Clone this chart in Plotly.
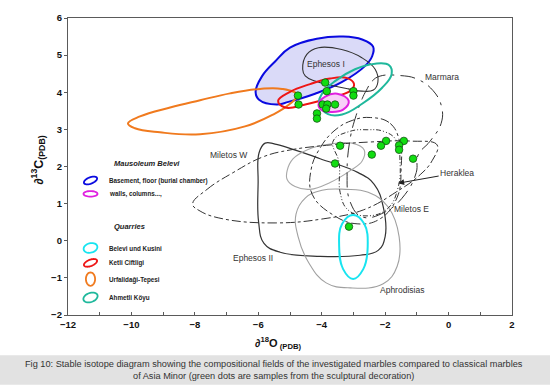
import math
import plotly.graph_objects as go

# ---------------- data (delta units) ----------------
# green dots: samples from the sculptural decoration
dots_x = [-3.89, -3.84, -3.00, -3.00, -4.75, -4.73, -3.97, -3.82, -3.58, -3.86, -4.15, -4.15,
          -1.97, -1.41, -2.13, -1.56, -1.56, -3.42, -2.42, -1.12, -3.58, -3.14]
dots_y = [4.26, 4.03, 4.03, 3.91, 3.91, 3.67, 3.67, 3.67, 3.67, 3.56, 3.43, 3.29,
          2.69, 2.69, 2.56, 2.57, 2.45, 2.56, 2.32, 2.21, 2.08, 0.38]

# Mausoleum Belevi fields
basement_x = [-6.085, -5.88, -5.47, -5.00, -4.155, -3.325, -2.725, -2.38, -2.41, -2.63, -3.37, -4.21, -5.05, -5.42, -5.975]
basement_y = [4.01, 4.435, 4.83, 5.20, 5.44, 5.50, 5.42, 5.23, 4.97, 4.71, 4.27, 3.96, 3.74, 3.67, 3.80]
walls_x = [-4.10, -3.89, -3.51, -3.15, -3.325, -3.70, -4.02]
walls_y = [3.67, 3.88, 3.96, 3.77, 3.53, 3.47, 3.53]

# quarries
belevi_x = [-3.01, -2.66, -2.55, -2.69, -3.01, -3.325, -3.45, -3.355]
belevi_y = [0.695, 0.456, -0.154, -0.764, -1.03, -0.764, -0.154, 0.456]
ketli_x = [-5.375, -5.00, -4.365, -3.735, -3.20, -2.98, -3.10, -3.735, -4.52, -5.155]
ketli_y = [3.77, 4.01, 4.22, 4.37, 4.38, 4.22, 4.04, 3.85, 3.67, 3.59]
urfa_x = [-10.11, -9.73, -8.78, -7.835, -6.89, -5.945, -5.25, -4.76, -5.00, -5.53, -6.42, -7.835, -9.10, -9.89]
urfa_y = [3.16, 3.35, 3.59, 3.785, 3.97, 4.09, 4.09, 3.93, 3.69, 3.40, 3.08, 2.87, 2.92, 3.03]
ahmetli_x = [-4.08, -3.99, -3.58, -2.95, -2.315, -1.875, -1.795, -2.095, -2.725, -3.355, -3.80]
ahmetli_y = [3.69, 3.96, 4.30, 4.62, 4.77, 4.73, 4.49, 4.12, 3.69, 3.40, 3.41]

# classical marbles of Asia Minor
ephesos1_x = [-4.60, -4.47, -4.10, -3.37, -2.735, -2.315, -2.23, -2.37, -2.735, -3.16, -3.68, -4.21, -4.52]
ephesos1_y = [4.62, 5.02, 5.20, 5.15, 4.93, 4.62, 4.27, 4.06, 4.03, 4.09, 4.18, 4.30, 4.44]
ephesos2_x = [-5.785, -5.47, -4.05, -2.85, -2.345, -2.06, -2.00, -2.22, -2.79, -4.05, -5.31, -5.82, -5.99, -6.005, -5.975]
ephesos2_y = [2.63, 2.605, 2.21, 1.835, 1.52, 0.91, 0.11, -0.26, -0.39, -0.42, -0.31, -0.07, 0.51, 1.57, 2.37]
aphro_x = [-4.81, -4.52, -3.99, -3.26, -2.535, -1.905, -1.56, -1.62, -2.06, -3.10, -3.86, -4.40, -4.745]
aphro_y = [0.72, 1.15, 1.36, 1.385, 1.305, 0.91, 0.11, -0.685, -1.16, -1.27, -1.135, -0.605, 0.11]
grayfield_x = [-5.09, -4.90, -4.43, -3.735, -3.04, -2.66, -2.725, -3.10, -3.735, -4.365, -4.84, -5.09]
grayfield_y = [1.89, 2.21, 2.46, 2.605, 2.63, 2.445, 2.15, 1.89, 1.57, 1.385, 1.46, 1.65]
miletosw_x = [-8.07, -7.615, -6.795, -5.85, -5.00, -3.735, -2.47, -1.21, -0.36, -0.52, -0.895, -1.62, -2.69, -3.955, -5.47, -7.11, -7.835]
miletosw_y = [0.99, 1.385, 1.835, 2.26, 2.445, 2.58, 2.66, 2.685, 2.58, 2.155, 1.78, 1.33, 0.83, 0.59, 0.48, 0.59, 0.80]
marmara_x = [-2.60, -2.41, -2.16, -1.53, -0.99, -0.485, -0.22, -0.235, -0.58, -0.96, -1.02, -1.37, -2.00, -2.725, -3.10, -3.20, -3.10, -2.915, -2.725]
marmara_y = [4.04, 4.30, 4.435, 4.45, 4.355, 4.04, 3.61, 3.16, 2.685, 2.31, 1.835, 1.25, 0.775, 0.64, 1.04, 1.835, 2.765, 3.375, 3.825]
miletose_x = [-2.47, -1.84, -1.53, -1.495, -1.62, -2.16, -2.885, -3.64, -4.30, -4.335, -4.05, -3.58, -3.04]
miletose_y = [3.32, 3.16, 2.63, 1.97, 1.17, 0.59, 0.456, 0.695, 1.25, 1.915, 2.50, 2.98, 3.24]
heraklea_x = [-3.64, -3.10, -2.57, -2.06, -1.65, -1.53, -1.59, -1.905, -2.535, -3.17, -3.42, -3.45]
heraklea_y = [2.685, 2.95, 2.99, 2.95, 2.71, 2.10, 1.44, 0.88, 0.67, 0.83, 1.305, 2.10]

field_labels = ["Ephesos I", "Marmara", "Miletos W", "Heraklea", "Miletos E", "Ephesos II", "Aphrodisias"]
label_x = [-3.87, -0.21, -6.95, 0.26, -1.16, -6.16, -1.47]
label_y = [4.75, 4.42, 2.31, 1.835, 0.86, -0.47, -1.33]

caption = ("Fig 10: Stable isotope diagram showing the compositional fields of the investigated marbles compared to classical marbles"
           "<br>of Asia Minor (green dots are samples from the sculptural decoration)")

# ---------------- figure ----------------
W, H = 550, 386
L, R, T, B = 68, 38, 13, 71
PW, PH = W - L - R, H - T - B
FONT = "Liberation Sans, Arial, sans-serif"


def px2paper(px, py):
    return (px - L) / PW, (H - B - py) / PH


def closed(xs, ys):
    return xs + xs[:1], ys + ys[:1]


fig = go.Figure()


def field(xs, ys, color, width=1.0, dash="solid", fillcolor=None):
    cx, cy = closed(xs, ys)
    fig.add_trace(go.Scatter(
        x=cx, y=cy, mode="lines",
        line=dict(color=color, width=width, dash=dash, shape="spline", smoothing=1.2),
        fill="toself" if fillcolor else "none",
        fillcolor=fillcolor, hoverinfo="skip", showlegend=False))


field(basement_x, basement_y, "#0a0ae0", 2.0, fillcolor="#dadaf8")
field(ephesos2_x, ephesos2_y, "#333333", 1.2)
field(aphro_x, aphro_y, "#a0a0a0", 1.1)
field(grayfield_x, grayfield_y, "#a8a8a8", 1.1)
field(miletosw_x, miletosw_y, "#333333", 1.0, dash="dashdot")
field(marmara_x, marmara_y, "#333333", 1.0, dash="longdashdot")
field(miletose_x, miletose_y, "#333333", 1.0, dash="dashdot")
field(heraklea_x, heraklea_y, "#333333", 1.0, dash="5px,2px,1px,2px,1px,2px")
field(urfa_x, urfa_y, "#f07a1e", 2.0)
field(ephesos1_x, ephesos1_y, "#333333", 1.1)
field(ketli_x, ketli_y, "#ee1515", 2.0)
field(ahmetli_x, ahmetli_y, "#1fb89c", 2.0)
field(belevi_x, belevi_y, "#18e4f0", 2.0)
field(walls_x, walls_y, "#e020e0", 2.0, fillcolor="#f8d0f8")

fig.add_trace(go.Scatter(
    x=dots_x, y=dots_y, mode="markers",
    marker=dict(symbol="circle", size=7.5, color="#11dd11", line=dict(color="#145214", width=0.8)),
    hoverinfo="skip", showlegend=False))

annotations = []
for t, x, y in zip(field_labels, label_x, label_y):
    annotations.append(dict(x=x, y=y, xref="x", yref="y", text=t, showarrow=False,
                            xanchor="center", yanchor="middle",
                            font=dict(family=FONT, size=8.5, color="#333333")))

# Heraklea arrow
annotations.append(dict(x=-1.59, y=1.55, ax=-0.265, ay=1.75, xref="x", yref="y",
                        axref="x", ayref="y", text="", showarrow=True,
                        arrowhead=2, arrowsize=1.2, arrowwidth=1, arrowcolor="#222222"))

# ---- legend drawn inside the plot ----
legend_heads = [("Mausoleum Belevi", 111.7, 160.7), ("Quarries", 111.7, 225)]
for t, px, py in legend_heads:
    xp, yp = px2paper(px, py)
    annotations.append(dict(x=xp, y=yp, xref="paper", yref="paper", xanchor="left", yanchor="middle",
                            text=f"<b><i>{t}</i></b>", showarrow=False,
                            font=dict(family=FONT, size=7.5, color="#222222")))

legend_items = [
    ("Basement, floor (burial chamber)", 178.7, "#0a0ae0", 7, 3.2, 22),
    ("walls, columns...,", 192.3, "#e020e0", 7, 2.8, 0),
    ("Belevi und Kusini", 247.3, "#18e4f0", 7, 4.8, 15),
    ("Ketli Ciftligi", 262.5, "#ee1515", 7, 3.2, 22),
    ("Urfalidaği-Tepesi", 279.0, "#f07a1e", 4.6, 6.8, 0),
    ("Ahmetli Köyu", 297.7, "#1fb89c", 7.4, 4.6, 20),
]
shapes = []


def ell_path(cx, cy, rx, ry, ang):
    a = math.radians(ang)
    pts = []
    for k in range(36):
        t = 2 * math.pi * k / 36
        ex, ey = rx * math.cos(t), ry * math.sin(t)
        px = cx + ex * math.cos(a) - ey * math.sin(a)
        py = cy - (ex * math.sin(a) + ey * math.cos(a))
        pts.append(px2paper(px, py))
    return "M " + " L ".join(f"{x:.5f},{y:.5f}" for x, y in pts) + " Z"


for t, py, col, rx, ry, ang in legend_items:
    shapes.append(dict(type="path", xref="paper", yref="paper",
                       path=ell_path(90.5, py - 0.5, rx, ry, ang),
                       line=dict(color=col, width=1.8)))
    xp, yp = px2paper(107, py)
    annotations.append(dict(x=xp, y=yp, xref="paper", yref="paper", xanchor="left", yanchor="middle",
                            text=f"<b>{t}</b>", showarrow=False,
                            font=dict(family=FONT, size=6.3, color="#222222")))

# axis titles
xp, yp = px2paper(278, 343)
annotations.append(dict(x=xp, y=yp, xref="paper", yref="paper", showarrow=False,
                        xanchor="center", yanchor="middle",
                        text="<b>∂<sup>18</sup>O<sub> (PDB)</sub></b>",
                        font=dict(family=FONT, size=11, color="#111111")))
xp, yp = px2paper(38, 158)
annotations.append(dict(x=xp, y=yp, xref="paper", yref="paper", showarrow=False, textangle=-90,
                        xanchor="center", yanchor="middle",
                        text="<b>∂<sup>13</sup>C<sub>(PDB)</sub></b>",
                        font=dict(family=FONT, size=12.5, color="#111111")))

# caption band
x0, y0 = px2paper(0, 356)
x1, y1 = px2paper(W, H)
shapes.append(dict(type="rect", xref="paper", yref="paper", x0=x0, x1=x1, y0=y1, y1=y0,
                   fillcolor="#e2e2e2", line=dict(width=0), layer="below"))
xp, yp = px2paper(W / 2 - 1, 370.5)
annotations.append(dict(x=xp, y=yp, xref="paper", yref="paper", showarrow=False,
                        xanchor="center", yanchor="middle",
                        text=caption, align="center",
                        font=dict(family=FONT, size=9.2, color="#333333")))

axis_common = dict(showgrid=False, zeroline=False, showline=True, mirror=True,
                   linecolor="#5a5a5a", linewidth=1.3, ticklen=3,
                   tickcolor="#5a5a5a",
                   tickfont=dict(family=FONT, size=9.5, color="#111111", weight="bold"))

fig.update_layout(
    width=W, height=H,
    margin=dict(l=L, r=R, t=T, b=B, pad=0),
    paper_bgcolor="white", plot_bgcolor="white",
    font=dict(family=FONT),
    xaxis=dict(range=[-12, 2], dtick=2, tick0=0, ticks="inside",
               minor=dict(ticks="inside", dtick=1, ticklen=3, tickcolor="#5a5a5a"),
               **axis_common),
    yaxis=dict(range=[-2, 6], dtick=1, tick0=0, ticks="outside", **axis_common),
    shapes=shapes, annotations=annotations, showlegend=False)

fig.write_html("out.html", config={"displayModeBar": False},
               post_script="document.body.style.margin='0px';")
